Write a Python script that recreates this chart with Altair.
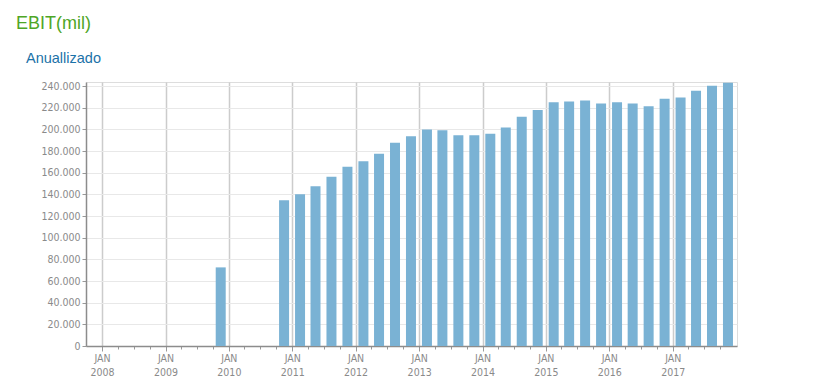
import altair as alt
import pandas as pd

title_text = "EBIT(mil)"
subtitle_text = "Anuallizado"

quarters = [
    "2009-Q4",
    "2010-Q4",
    "2011-Q1", "2011-Q2", "2011-Q3", "2011-Q4",
    "2012-Q1", "2012-Q2", "2012-Q3", "2012-Q4",
    "2013-Q1", "2013-Q2", "2013-Q3", "2013-Q4",
    "2014-Q1", "2014-Q2", "2014-Q3", "2014-Q4",
    "2015-Q1", "2015-Q2", "2015-Q3", "2015-Q4",
    "2016-Q1", "2016-Q2", "2016-Q3", "2016-Q4",
    "2017-Q1", "2017-Q2", "2017-Q3", "2017-Q4",
]
ebit = [
    72600,
    134600,
    140100, 147500, 156400, 165600,
    170500, 177500, 187600, 193700,
    199900, 199200, 194600, 194600,
    195900, 201700, 211800, 218000,
    225000, 225900, 226800, 224000,
    225000, 224000, 221300, 228300,
    229600, 235700, 240300, 243100,
]
y_ticks = list(range(0, 240001, 20000))
years = list(range(2008, 2018))

mid_month = {"Q1": "02", "Q2": "05", "Q3": "08", "Q4": "11"}
dates = [f"{q[:4]}-{mid_month[q[5:]]}-15" for q in quarters]
df = pd.DataFrame({"quarter": quarters, "date": dates, "ebit": ebit})

x_ticks = [alt.DateTime(year=y, month=m, date=1, utc=True) for y in years for m in (1, 4, 7, 10)]

bars = alt.Chart(df).mark_bar(size=10, color="#7ab2d4").encode(
    x=alt.X(
        "date:T",
        scale=alt.Scale(
            type="utc",
            domain=[alt.DateTime(year=2007, month=10, date=1, utc=True),
                    alt.DateTime(year=2018, month=1, date=6, utc=True)],
            nice=False,
            padding=0,
        ),
        axis=alt.Axis(
            title=None,
            values=x_ticks,
            labelExpr="utcmonth(datum.value) === 0 ? ['JAN', utcFormat(datum.value, '%Y')] : ''",
            labelOverlap=False,
            labelFlush=False,
            labelBound=False,
            labelFont="DejaVu Sans Condensed, DejaVu Sans",
            labelFontSize=10.5,
            labelColor="#8a8a8a",
            labelLineHeight=14,
            labelPadding=2,
            grid=True,
            gridColor="#cccccc",
            gridWidth=1.5,
            gridOpacity={"condition": {"test": "utcmonth(datum.value) === 0", "value": 1}, "value": 0},
            tickSize={"condition": {"test": "utcmonth(datum.value) === 0", "value": 5}, "value": 3},
            tickColor="#999999",
            domainColor="#8c8c8c",
            domainWidth=1.5,
        ),
    ),
    y=alt.Y(
        "ebit:Q",
        scale=alt.Scale(domain=[0, 243800], nice=False),
        axis=alt.Axis(
            title=None,
            values=y_ticks,
            labelExpr="replace(format(datum.value, ',d'), ',', '.')",
            labelFont="DejaVu Sans Condensed, DejaVu Sans",
            labelFontSize=10.5,
            labelColor="#8a8a8a",
            labelPadding=2,
            grid=True,
            gridColor="#e8e8e8",
            tickSize=4,
            tickColor="#999999",
            domainColor="#8c8c8c",
            domainWidth=1.5,
        ),
    ),
    tooltip=["quarter:N", "ebit:Q"],
)

t1 = alt.Chart(pd.DataFrame({"t": [title_text]})).mark_text(
    align="left", baseline="alphabetic", font="Liberation Sans", fontSize=18, color="#4ea626"
).encode(x=alt.value(-70), y=alt.value(-53), text="t:N")

t2 = alt.Chart(pd.DataFrame({"t": [subtitle_text]})).mark_text(
    align="left", baseline="alphabetic", font="Liberation Sans", fontSize=14.5, color="#1b72a8"
).encode(x=alt.value(-60), y=alt.value(-19.5), text="t:N")

chart = alt.layer(bars, t1, t2).properties(
    width=651,
    height=264,
    autosize=alt.AutoSizeParams(type="none"),
    padding={"left": 78, "top": 74, "right": 60, "bottom": 32},
).configure_view(stroke="#dddddd")

chart.save("out.html", embed_options={"renderer": "svg", "actions": False})
